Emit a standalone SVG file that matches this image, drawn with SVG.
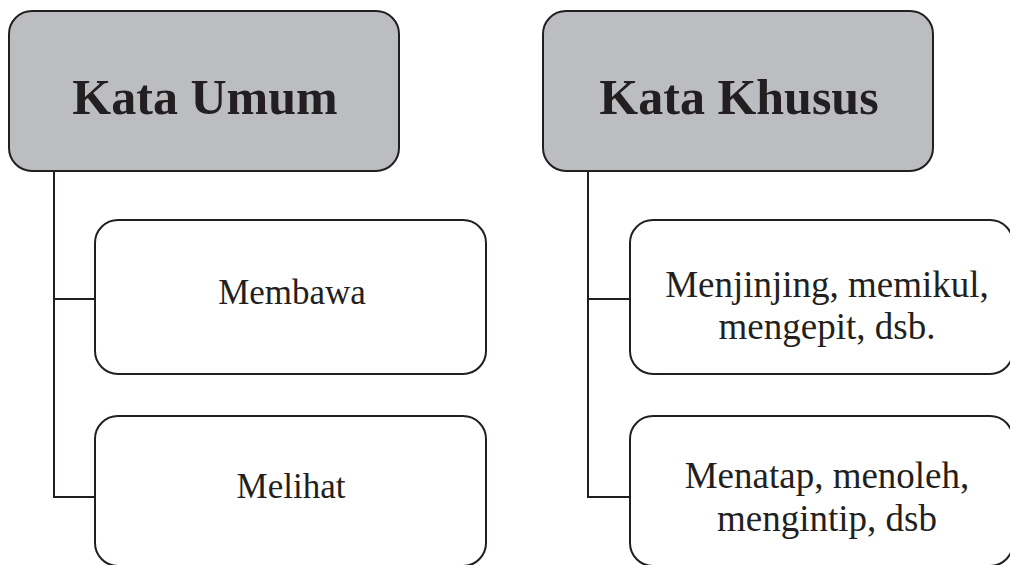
<svg xmlns="http://www.w3.org/2000/svg" width="1010" height="565" viewBox="0 0 1010 565">
  <style>
    .head { fill: #bcbdc1; stroke: #231f20; stroke-width: 2; }
    .item { fill: #ffffff; stroke: #231f20; stroke-width: 2; }
    .link { fill: none; stroke: #231f20; stroke-width: 2; }
    .title { font-family: "Liberation Serif", "Times New Roman", serif; font-weight: bold; font-size: 50px; fill: #231f20; text-anchor: middle; }
    .label { font-family: "Liberation Serif", "Times New Roman", serif; font-size: 35px; fill: #231f20; text-anchor: middle; }
    .label.wide { font-size: 37px; }
  </style>
  <rect width="1010" height="565" fill="#ffffff"/>

  <!-- tree connectors -->
  <g id="connectors">
    <path class="link" d="M54 171 V497 H95"/>
    <path class="link" d="M54 299 H95"/>
    <path class="link" d="M588 171 V497 H630"/>
    <path class="link" d="M588 299 H630"/>
  </g>

  <!-- general words -->
  <g id="kata-umum">
    <rect class="head" x="9" y="11" width="390" height="160" rx="23"/>
    <text class="title" x="205" y="114">Kata Umum</text>
  </g>
  <g id="membawa">
    <rect class="item" x="95" y="220" width="391" height="154" rx="23"/>
    <text class="label" x="292" y="304">Membawa</text>
  </g>
  <g id="melihat">
    <rect class="item" x="95" y="416" width="391" height="150" rx="23"/>
    <text class="label" x="291" y="498">Melihat</text>
  </g>

  <!-- specific words -->
  <g id="kata-khusus">
    <rect class="head" x="543" y="11" width="390" height="160" rx="23"/>
    <text class="title" x="739" y="114">Kata Khusus</text>
  </g>
  <g id="menjinjing">
    <rect class="item" x="630" y="220" width="383" height="154" rx="23"/>
    <text class="label wide" x="827" y="297">Menjinjing, memikul,</text>
    <text class="label wide" x="827" y="339">mengepit, dsb.</text>
  </g>
  <g id="menatap">
    <rect class="item" x="630" y="416" width="383" height="150" rx="23"/>
    <text class="label wide" x="827" y="488">Menatap, menoleh,</text>
    <text class="label wide" x="827" y="531">mengintip, dsb</text>
  </g>
</svg>
